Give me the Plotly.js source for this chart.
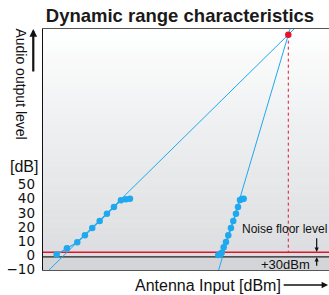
<!DOCTYPE html>
<html>
<head>
<meta charset="utf-8">
<script src="https://cdn.plot.ly/plotly-3.0.1.min.js"></script>
<style>
html,body{margin:0;padding:0;background:#fff;}
#chart{width:329px;height:295px;}
</style>
</head>
<body>
<div id="chart"></div>
<script>
// ---- data ----
var yTickVals = [-10, 0, 10, 20, 30, 40, 50];
var yTickText = ["\u221210", "0", "10", "20", "30", "40", "50"];

var leftMeasX = [4.96, 8.55, 12.15, 14.83, 17.38, 19.97, 22.51, 24.96, 27.40, 29.14, 30.54];
var leftMeasY = [0.7, 5.1, 9.4, 14.3, 19.4, 24.3, 29.4, 34.2, 38.9, 39.6, 39.9];

var rightMeasX = [61.36, 61.95, 62.55, 63.25, 64.05, 64.85, 65.79, 66.60, 67.54, 68.24, 68.94, 69.63, 70.23];
var rightMeasY = [0.35, 0.85, 2.0, 5.8, 9.5, 14.2, 19.4, 24.3, 29.4, 34.2, 39.1, 39.8, 40.0];

var leftRefX = [2.3, 87.8];
var leftRefY = [-10.2, 159.5];
var rightRefX = [61.5, 86.4];
var rightRefY = [-10.2, 159.5];

var peakX = [85.8];
var peakY = [155.5];

var noiseFloorY = 2.3;
var baseLineY = -1.0;

var yRange = [-10.2, 159.5];
var xRange = [0.2, 100];

// ---- styling ----
var BLUE = "#1ea9ef";
var RED = "#e8132b";
var FONT = "Liberation Sans, Arial, Helvetica, sans-serif";
var TICKFONT = "DejaVu Sans, Liberation Sans, sans-serif";

var traces = [
  {x: leftRefX, y: leftRefY, mode: "lines", line: {color: BLUE, width: 1}, hoverinfo: "skip"},
  {x: rightRefX, y: rightRefY, mode: "lines", line: {color: BLUE, width: 1}, hoverinfo: "skip"},
  {x: leftMeasX, y: leftMeasY, mode: "lines+markers", line: {color: BLUE, width: 1.2},
   marker: {color: BLUE, size: 6.5}},
  {x: rightMeasX, y: rightMeasY, mode: "lines+markers", line: {color: BLUE, width: 1.2},
   marker: {color: BLUE, size: 6.5}},
  {x: peakX, y: peakY, mode: "markers", marker: {color: RED, size: 6.5}}
];

// background gradient stripes
var shapes = [];
var N = 40;
function lerp(a, b, t) { return Math.round(a + (b - a) * t); }
for (var i = 0; i < N; i++) {
  var t = i / (N - 1);
  var c0 = [255, 255, 255], c1 = [218, 220, 223];
  var tt = Math.pow(t, 0.9);
  var col = "rgb(" + lerp(c0[0], c1[0], tt) + "," + lerp(c0[1], c1[1], tt) + "," + lerp(c0[2], c1[2], tt) + ")";
  shapes.push({type: "rect", xref: "paper", yref: "paper", x0: 0, x1: 1,
    y0: 1 - (i + 1) / N, y1: 1 - i / N + 0.002, line: {width: 0}, fillcolor: col, layer: "below"});
}
shapes.push({type: "rect", xref: "paper", yref: "y", x0: 0, x1: 1, y0: yRange[0], y1: baseLineY,
  line: {width: 0}, fillcolor: "rgb(211,213,216)", layer: "below"});
shapes.push({type: "line", xref: "paper", yref: "y", x0: 0, x1: 1, y0: noiseFloorY, y1: noiseFloorY,
  line: {color: RED, width: 1.5}, layer: "below"});
shapes.push({type: "line", xref: "paper", yref: "y", x0: 0, x1: 1, y0: baseLineY, y1: baseLineY,
  line: {color: "#222", width: 1.2}, layer: "below"});
shapes.push({type: "line", xref: "x", yref: "y", x0: peakX[0], x1: peakX[0], y0: peakY[0], y1: noiseFloorY,
  line: {color: RED, width: 1, dash: "3px,3px"}, layer: "below"});

var annotations = [
  {xref: "paper", yref: "paper", x: -0.075, y: 0.772, xanchor: "center", yanchor: "middle",
   text: "Audio output level", textangle: 90,
   showarrow: false, font: {family: FONT, size: 14, color: "#111"}},
  {xref: "paper", yref: "paper", x: -0.034, y: 1.0, ax: 0, ay: 44, text: "", showarrow: true,
   arrowhead: 2, arrowsize: 0.7, arrowwidth: 2.2, arrowcolor: "#111"},
  {xref: "paper", yref: "paper", x: -0.068, y: 0.43, xanchor: "center", yanchor: "middle",
   text: "[dB]", showarrow: false,
   font: {family: FONT, size: 16, color: "#111"}},
  {xref: "paper", yref: "paper", x: 0.578, y: -0.064, xanchor: "center", yanchor: "middle",
   text: "Antenna Input [dBm]", showarrow: false,
   font: {family: FONT, size: 16, color: "#111"}},
  {xref: "paper", yref: "paper", x: 0.997, y: -0.062, ax: -46, ay: 0, text: "", showarrow: true,
   arrowhead: 2, arrowsize: 0.8, arrowwidth: 1.6, arrowcolor: "#111"},
  {xref: "paper", yref: "y", x: 1.0, y: 19, xanchor: "right", yanchor: "middle",
   text: "Noise floor level", showarrow: false,
   font: {family: FONT, size: 12, color: "#111"}},
  {xref: "x", yref: "y", x: 95.7, y: noiseFloorY + 0.3, ax: 0, ay: -15, text: "", showarrow: true,
   arrowhead: 2, arrowsize: 0.7, arrowwidth: 1.2, arrowcolor: "#111"},
  {xref: "x", yref: "y", x: 95.7, y: baseLineY - 0.3, ax: 0, ay: 10, text: "", showarrow: true,
   arrowhead: 2, arrowsize: 0.7, arrowwidth: 1.2, arrowcolor: "#111"},
  {xref: "paper", yref: "y", x: 0.942, y: -6.6, xanchor: "right", yanchor: "middle",
   text: "+30dBm", showarrow: false,
   font: {family: FONT, size: 13, color: "#111"}}
];

var layout = {
  width: 329, height: 295,
  margin: {l: 43, r: 0, t: 29, b: 25, pad: 0},
  paper_bgcolor: "#ffffff", plot_bgcolor: "#ffffff",
  showlegend: false,
  title: {text: "<b>Dynamic range characteristics</b>", x: 0.547, xref: "container", xanchor: "center",
    y: 0.949, yref: "container", yanchor: "middle",
    font: {family: FONT, size: 18.5, color: "#1a1a1a"}},
  xaxis: {range: xRange, showgrid: false, zeroline: false, showticklabels: false, ticks: "",
    showline: true, linecolor: "#555", linewidth: 1, mirror: true, fixedrange: true},
  yaxis: {range: yRange, showgrid: false, zeroline: false, tickvals: yTickVals, ticktext: yTickText,
    ticks: "", ticklabelstandoff: 4, tickfont: {family: TICKFONT, size: 13.5, color: "#111"},
    showline: true, linecolor: "#111", linewidth: 1.3, fixedrange: true},
  shapes: shapes,
  annotations: annotations
};

Plotly.newPlot("chart", traces, layout, {staticPlot: true, displayModeBar: false});
</script>
</body>
</html>
